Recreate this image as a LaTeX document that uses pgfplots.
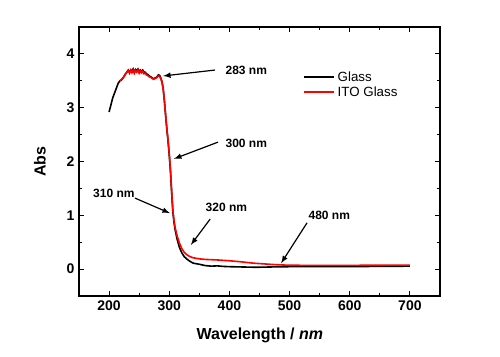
\documentclass[border=0pt]{standalone}
\usepackage{fontspec}
\setmainfont{Liberation Sans}
\usepackage{pgfplots}
\pgfplotsset{compat=1.18}

\pgfplotstableread{
x y
200 2.92
203 3.05
206 3.18
209 3.27
212 3.36
215 3.45
218 3.50
221 3.52
224 3.57
227 3.62
230 3.67
232 3.70
234 3.66
236 3.70
238 3.68
240 3.72
242 3.66
244 3.71
246 3.69
248 3.72
250 3.67
252 3.70
254 3.68
256 3.70
258 3.66
260 3.66
262 3.63
264 3.62
266 3.60
268 3.58
270 3.57
272 3.55
274 3.54
276 3.55
278 3.56
280 3.58
282 3.61
284 3.60
286 3.55
288 3.48
290 3.35
292 3.12
294 2.85
296 2.60
298 2.38
300 2.12
302 1.82
304 1.42
306 1.06
308 0.86
310 0.72
313 0.56
317 0.40
321 0.30
325 0.23
330 0.18
335 0.14
340 0.11
350 0.09
360 0.065
370 0.055
380 0.06
390 0.05
400 0.045
420 0.04
440 0.035
450 0.035
470 0.04
500 0.045
550 0.045
600 0.048
650 0.05
700 0.055
}\glass

\pgfplotstableread{
x y
218 3.50
221 3.53
224 3.56
227 3.63
230 3.66
232 3.69
234 3.64
236 3.70
238 3.65
240 3.70
242 3.64
244 3.69
246 3.66
248 3.70
250 3.64
252 3.68
254 3.65
256 3.68
258 3.63
260 3.64
262 3.61
264 3.60
266 3.58
268 3.57
270 3.56
272 3.54
274 3.53
276 3.54
278 3.55
280 3.57
282 3.59
284 3.58
286 3.54
288 3.47
290 3.34
292 3.12
294 2.86
296 2.62
298 2.40
300 2.15
302 1.85
304 1.45
306 1.10
308 0.90
310 0.76
313 0.62
317 0.48
321 0.38
325 0.31
330 0.26
335 0.23
340 0.21
350 0.19
360 0.18
380 0.17
400 0.155
420 0.135
440 0.11
460 0.095
480 0.08
500 0.072
550 0.068
600 0.07
650 0.072
700 0.075
}\ito

\begin{document}
\begin{tikzpicture}
\path[use as bounding box] (-59.25pt,-45.75pt) rectangle (315.75pt,222pt);
\begin{axis}[
  scale only axis,
  width=270.75pt, height=201.75pt,
  xmin=150, xmax=750, ymin=-0.5, ymax=4.5,
  xtick={200,300,400,500,600,700},
  minor xtick={250,350,450,550,650},
  ytick={0,1,2,3,4},
  minor ytick={-0.5,0.5,1.5,2.5,3.5},
  tick align=inside,
  major tick length=4pt,
  minor tick length=2.5pt,
  axis line style={line width=0.9pt},
  every tick/.style={line width=0.8pt, black},
  tick label style={font=\bfseries\fontsize{10.5}{12}\selectfont},
  /pgf/number format/assume math mode=true,
  xlabel={\bfseries Wavelength / \textit{nm}},
  ylabel={\bfseries Abs},
  label style={font=\fontsize{12}{14}\selectfont},
  xlabel style={at={(axis description cs:0.501,-0.145)}, anchor=center},
  ylabel style={at={(axis description cs:-0.108,0.5)}, anchor=center},
  legend style={at={(axis description cs:0.61,0.855)}, anchor=north west, draw=none, fill=none,
    font=\fontsize{10}{11}\selectfont, row sep=-1.5pt},
  legend cell align=left,
  legend image code/.code={\draw[#1, line width=1.5pt] (0cm,0cm) -- (0.78cm,0cm);},
]
\addplot[black, line width=1.2pt] table {\glass};
\addlegendentry{Glass}
\addplot[red, line width=1.2pt] table {\ito};
\addlegendentry{ITO Glass}

\begin{scope}[font=\bfseries\fontsize{9}{10}\selectfont]
\draw[-latex, line width=0.9pt] (axis cs:376,3.70) -- (axis cs:290,3.59);
\node at (axis cs:428,3.70) {283 nm};
\draw[-latex, line width=0.9pt] (axis cs:381,2.36) -- (axis cs:308,2.05);
\node at (axis cs:428,2.34) {300 nm};
\draw[-latex, line width=0.9pt] (axis cs:243,1.32) -- (axis cs:301,1.04);
\node at (axis cs:208,1.41) {310 nm};
\draw[-latex, line width=0.9pt] (axis cs:368,0.93) -- (axis cs:336,0.45);
\node at (axis cs:395,1.15) {320 nm};
\draw[-latex, line width=0.9pt] (axis cs:529,0.86) -- (axis cs:486,0.11);
\node at (axis cs:566,1.005) {480 nm};
\end{scope}
\end{axis}
\end{tikzpicture}
\end{document}
